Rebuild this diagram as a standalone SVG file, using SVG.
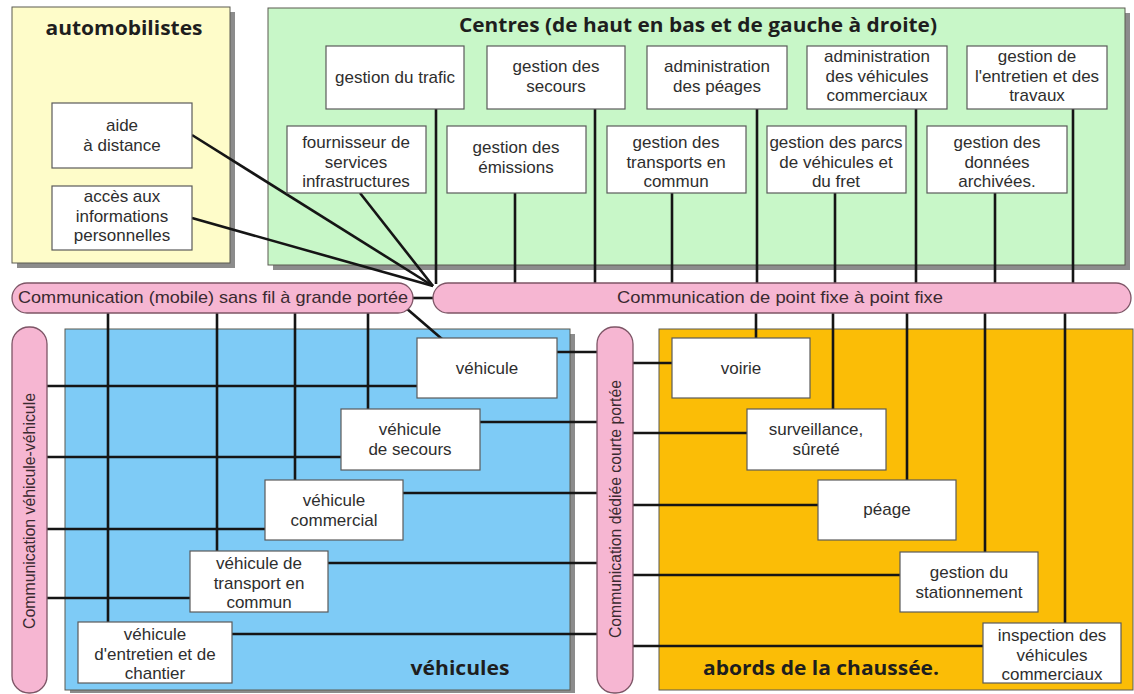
<svg xmlns="http://www.w3.org/2000/svg" width="1134" height="694" viewBox="0 0 1134 694">
<style>
.bg{fill:#ffffff}
.shadow{fill:#8c8c8c}
.panel{stroke:#5a5a50;stroke-width:1}
.box{fill:#ffffff;stroke:#5a5a5a;stroke-width:1.2}
.bus{fill:#f6b6d2;stroke:#7d5566;stroke-width:1.3}
.t{font-family:"Liberation Sans","Noto Sans",sans-serif;font-size:17px;fill:#2e2e2e;text-anchor:middle}
.bt{font-family:"Open Sans","Noto Sans","Liberation Sans",sans-serif;font-size:19px;font-weight:bold;fill:#1e1e1e;text-anchor:middle}
.bus-t{font-family:"Liberation Sans","Noto Sans",sans-serif;font-size:17px;fill:#3a2a30;text-anchor:middle}
.ln{stroke:#151515;stroke-width:2.6;fill:none}
</style>
<rect class="bg" x="0" y="0" width="1134" height="694"/>

<!-- Panels -->
<g id="panel-automobilistes">
<rect class="shadow" x="17" y="12" width="218" height="256"/>
<rect class="panel" x="12" y="7" width="218" height="256" fill="#fefcc9"/>
<text class="bt" x="124" y="35" textLength="157" lengthAdjust="spacingAndGlyphs">automobilistes</text>
</g>
<g id="panel-centres">
<rect class="shadow" x="273" y="13" width="857" height="257"/>
<rect class="panel" x="268" y="8" width="857" height="257" fill="#c8f7c8"/>
<text class="bt" x="698" y="32" textLength="478" lengthAdjust="spacingAndGlyphs">Centres (de haut en bas et de gauche à droite)</text>
</g>
<g id="panel-vehicules">
<rect class="shadow" x="70" y="334" width="505" height="359"/>
<rect class="panel" x="65" y="329" width="505" height="361" fill="#7ecbf6"/>
<text class="bt" x="460" y="675" fill="#17263a" textLength="99" lengthAdjust="spacingAndGlyphs">véhicules</text>
</g>
<g id="panel-abords">
<rect class="panel" x="659" y="329" width="474" height="361" fill="#fbbd06"/>
<text class="bt" x="821" y="675" fill="#2a2006" textLength="236" lengthAdjust="spacingAndGlyphs">abords de la chaussée.</text>
</g>

<!-- Connectors -->
<g id="connectors">
<line class="ln" x1="192" y1="135" x2="433" y2="286"/>
<line class="ln" x1="192" y1="218" x2="433" y2="286"/>
<line class="ln" x1="360" y1="193" x2="433" y2="286"/>
<line class="ln" x1="436" y1="109" x2="436" y2="284"/>
<line class="ln" x1="595" y1="109" x2="595" y2="284"/>
<line class="ln" x1="757" y1="109" x2="757" y2="284"/>
<line class="ln" x1="916" y1="109" x2="916" y2="284"/>
<line class="ln" x1="1073" y1="109" x2="1073" y2="284"/>
<line class="ln" x1="515" y1="193" x2="515" y2="284"/>
<line class="ln" x1="672" y1="193" x2="672" y2="284"/>
<line class="ln" x1="835" y1="193" x2="835" y2="284"/>
<line class="ln" x1="995" y1="193" x2="995" y2="284"/>
<line class="ln" x1="410" y1="298" x2="436" y2="298"/>
<line class="ln" x1="406" y1="308" x2="442" y2="339"/>
<line class="ln" x1="108" y1="312" x2="108" y2="622"/>
<line class="ln" x1="217" y1="312" x2="217" y2="551"/>
<line class="ln" x1="295" y1="312" x2="295" y2="480"/>
<line class="ln" x1="368" y1="312" x2="368" y2="409"/>
<line class="ln" x1="46" y1="386" x2="417" y2="386"/>
<line class="ln" x1="46" y1="457" x2="341" y2="457"/>
<line class="ln" x1="46" y1="529" x2="265" y2="529"/>
<line class="ln" x1="46" y1="598" x2="190" y2="598"/>
<line class="ln" x1="557" y1="352" x2="598" y2="352"/>
<line class="ln" x1="480" y1="422" x2="598" y2="422"/>
<line class="ln" x1="403" y1="493" x2="598" y2="493"/>
<line class="ln" x1="328" y1="563" x2="598" y2="563"/>
<line class="ln" x1="232" y1="634" x2="598" y2="634"/>
<line class="ln" x1="632" y1="363" x2="672" y2="363"/>
<line class="ln" x1="632" y1="433" x2="747" y2="433"/>
<line class="ln" x1="632" y1="505" x2="818" y2="505"/>
<line class="ln" x1="632" y1="575" x2="900" y2="575"/>
<line class="ln" x1="632" y1="646" x2="983" y2="646"/>
<line class="ln" x1="756" y1="312" x2="756" y2="338"/>
<line class="ln" x1="833" y1="312" x2="833" y2="409"/>
<line class="ln" x1="907" y1="312" x2="907" y2="480"/>
<line class="ln" x1="985" y1="312" x2="985" y2="552"/>
<line class="ln" x1="1065" y1="312" x2="1065" y2="623"/>
</g>

<!-- Buses -->
<g id="bus-mobile">
<rect class="bus" x="12" y="283" width="401" height="30" rx="15" ry="15"/>
<text class="bus-t" x="213" y="303" textLength="390" lengthAdjust="spacingAndGlyphs">Communication (mobile) sans fil à grande portée</text>
</g>
<g id="bus-fixe">
<rect class="bus" x="433" y="283" width="698" height="30" rx="15" ry="15"/>
<text class="bus-t" x="780" y="303" textLength="326" lengthAdjust="spacingAndGlyphs">Communication de point fixe à point fixe</text>
</g>
<g id="bus-v2v">
<rect class="bus" x="12" y="327" width="35" height="366" rx="17" ry="17"/>
<text class="bus-t" transform="translate(35,511) rotate(-90)" x="0" y="0" textLength="236" lengthAdjust="spacingAndGlyphs">Communication véhicule-véhicule</text>
</g>
<g id="bus-dsrc">
<rect class="bus" x="597" y="327" width="36" height="366" rx="17" ry="17"/>
<text class="bus-t" transform="translate(621,509) rotate(-90)" x="0" y="0" textLength="258" lengthAdjust="spacingAndGlyphs">Communication dédiée courte portée</text>
</g>

<!-- automobilistes nodes -->
<g id="aide-distance"><rect class="box" x="52" y="103" width="140" height="65"/>
<text class="t" x="122" y="131">aide</text><text class="t" x="122" y="150.5">à distance</text></g>
<g id="acces-infos"><rect class="box" x="52" y="186" width="140" height="64"/>
<text class="t" x="122" y="202">accès aux</text><text class="t" x="122" y="221.5">informations</text><text class="t" x="122" y="241">personnelles</text></g>

<!-- centres nodes -->
<g id="gestion-trafic"><rect class="box" x="326" y="46" width="138" height="63"/>
<text class="t" x="395" y="83">gestion du trafic</text></g>
<g id="gestion-secours"><rect class="box" x="487" y="46" width="138" height="63"/>
<text class="t" x="556" y="72">gestion des</text><text class="t" x="556" y="91.5">secours</text></g>
<g id="admin-peages"><rect class="box" x="647" y="46" width="140" height="63"/>
<text class="t" x="717" y="72">administration</text><text class="t" x="717" y="91.5">des péages</text></g>
<g id="admin-vc"><rect class="box" x="807" y="46" width="140" height="63"/>
<text class="t" x="877" y="62">administration</text><text class="t" x="877" y="81.5">des véhicules</text><text class="t" x="877" y="101">commerciaux</text></g>
<g id="gestion-entretien"><rect class="box" x="967" y="46" width="140" height="63"/>
<text class="t" x="1037" y="62">gestion de</text><text class="t" x="1037" y="81.5">l'entretien et des</text><text class="t" x="1037" y="101">travaux</text></g>
<g id="fournisseur"><rect class="box" x="287" y="126" width="139" height="67"/>
<text class="t" x="356" y="148">fournisseur de</text><text class="t" x="356" y="167.5">services</text><text class="t" x="356" y="187">infrastructures</text></g>
<g id="gestion-emissions"><rect class="box" x="447" y="126" width="139" height="67"/>
<text class="t" x="516" y="153">gestion des</text><text class="t" x="516" y="173">émissions</text></g>
<g id="gestion-transports"><rect class="box" x="607" y="126" width="139" height="67"/>
<text class="t" x="676" y="148">gestion des</text><text class="t" x="676" y="167.5">transports en</text><text class="t" x="676" y="187">commun</text></g>
<g id="gestion-parcs"><rect class="box" x="767" y="126" width="139" height="67"/>
<text class="t" x="836" y="148">gestion des parcs</text><text class="t" x="836" y="167.5">de véhicules et</text><text class="t" x="836" y="187">du fret</text></g>
<g id="gestion-donnees"><rect class="box" x="927" y="126" width="140" height="67"/>
<text class="t" x="997" y="148">gestion des</text><text class="t" x="997" y="167.5">données</text><text class="t" x="997" y="187">archivées.</text></g>

<!-- vehicle nodes -->
<g id="vehicule"><rect class="box" x="417" y="338" width="140" height="60"/>
<text class="t" x="487" y="374">véhicule</text></g>
<g id="vehicule-secours"><rect class="box" x="341" y="409" width="139" height="61"/>
<text class="t" x="410" y="435">véhicule</text><text class="t" x="410" y="455">de secours</text></g>
<g id="vehicule-commercial"><rect class="box" x="265" y="480" width="138" height="60"/>
<text class="t" x="334" y="506">véhicule</text><text class="t" x="334" y="526">commercial</text></g>
<g id="vehicule-transport"><rect class="box" x="190" y="551" width="138" height="61"/>
<text class="t" x="259" y="569">véhicule de</text><text class="t" x="259" y="588.5">transport en</text><text class="t" x="259" y="608">commun</text></g>
<g id="vehicule-entretien"><rect class="box" x="78" y="622" width="154" height="61"/>
<text class="t" x="155" y="640">véhicule</text><text class="t" x="155" y="659.5">d'entretien et de</text><text class="t" x="155" y="679">chantier</text></g>

<!-- roadside nodes -->
<g id="voirie"><rect class="box" x="672" y="338" width="138" height="60"/>
<text class="t" x="741" y="374">voirie</text></g>
<g id="surveillance"><rect class="box" x="747" y="409" width="139" height="61"/>
<text class="t" x="816" y="435">surveillance,</text><text class="t" x="816" y="455">sûreté</text></g>
<g id="peage"><rect class="box" x="818" y="480" width="138" height="60"/>
<text class="t" x="887" y="515">péage</text></g>
<g id="stationnement"><rect class="box" x="900" y="552" width="138" height="60"/>
<text class="t" x="969" y="578">gestion du</text><text class="t" x="969" y="598">stationnement</text></g>
<g id="inspection"><rect class="box" x="983" y="623" width="138" height="60"/>
<text class="t" x="1052" y="641">inspection des</text><text class="t" x="1052" y="660.5">véhicules</text><text class="t" x="1052" y="680">commerciaux</text></g>
</svg>
